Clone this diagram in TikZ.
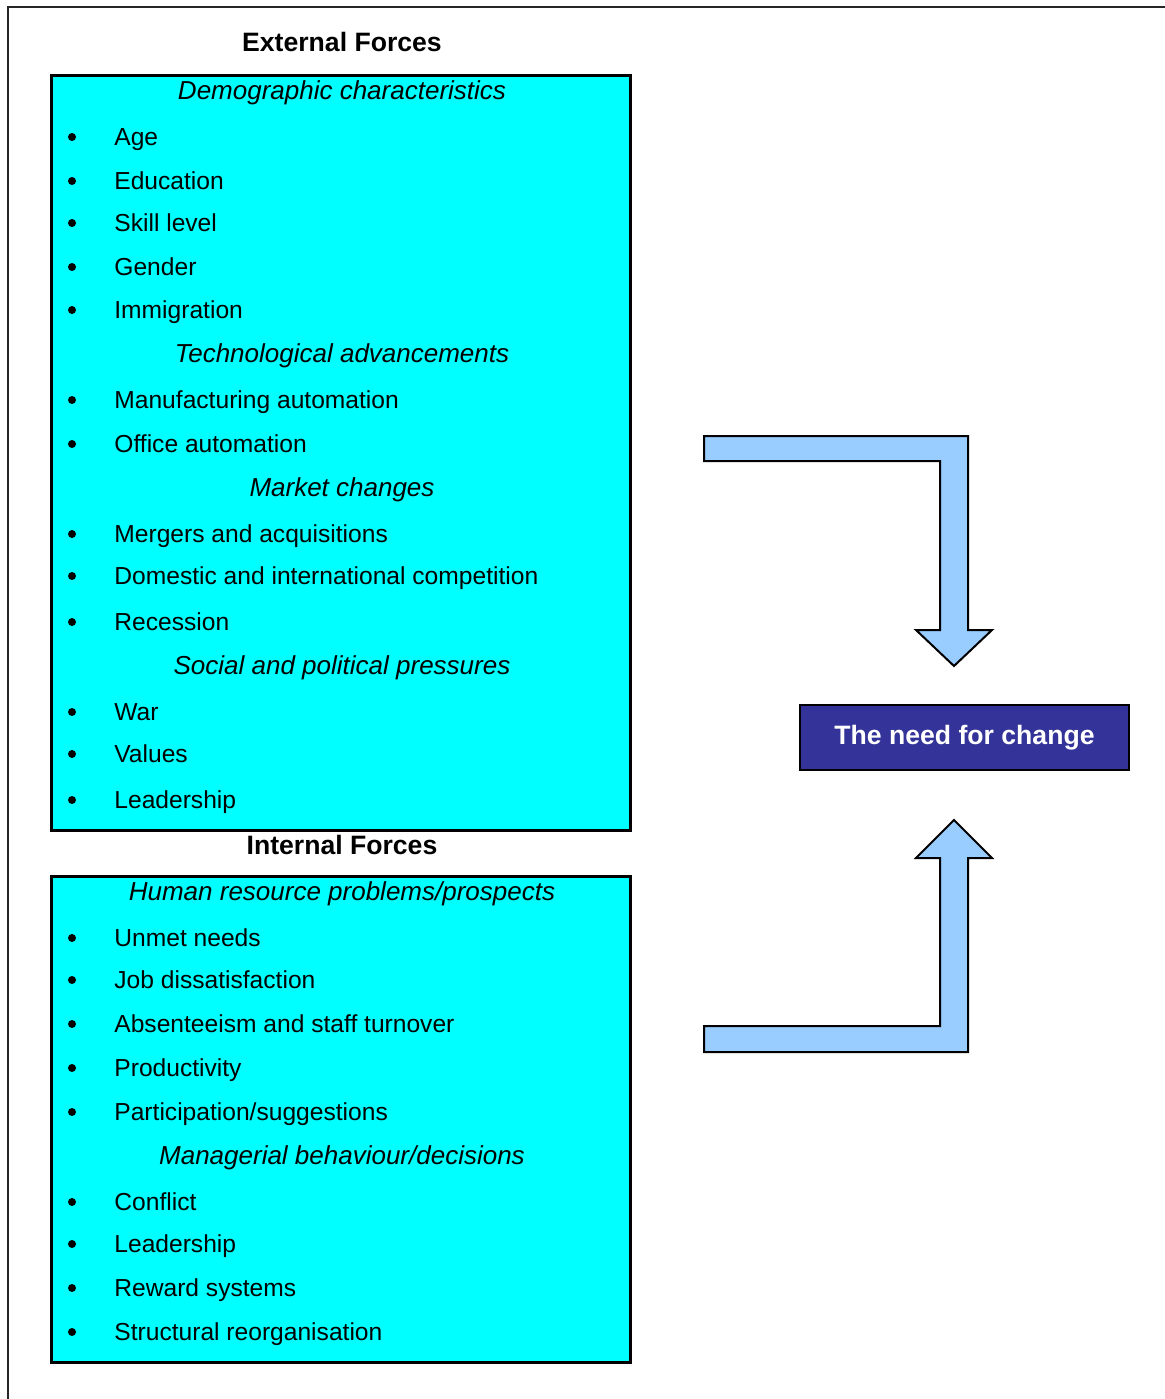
\documentclass[tikz,border=0pt]{standalone}
\usepackage{fontspec}
\setmainfont{Liberation Sans}
\definecolor{panelcyan}{HTML}{00FFFF}
\definecolor{arrowblue}{HTML}{99CCFF}
\definecolor{needblue}{HTML}{333399}
% one bulleted entry: bullet dot plus its text
\newcommand\listentry[3]{%
  \node[bulletdot] (#1dot) at (72,#2) {};
  \node[entry] (#1) at (114,#2+8) {#3};}
\begin{document}
\begin{tikzpicture}[x=0.5pt,y=-0.5pt,
  entry/.style={anchor=base west,inner sep=0,font=\fontsize{12.3}{14}\selectfont},
  group/.style={anchor=base,inner sep=0,font=\fontsize{13}{15}\selectfont\itshape},
  heading/.style={anchor=base,inner sep=0,font=\fontsize{13.3}{15}\selectfont\bfseries},
  bulletdot/.style={circle,fill=black,inner sep=0,minimum size=4pt},
  panel/.style={fill=panelcyan,draw=black,line width=1.5pt},
  bentarrow/.style={fill=arrowblue,draw=black,line width=1pt,line join=miter},
  needbox/.style={fill=needblue,draw=black,line width=0.8pt,text=white,
    font=\fontsize{13.3}{15}\selectfont\bfseries,minimum width=164.5pt,
    minimum height=32.5pt,inner sep=0}]
\useasboundingbox (0,0) rectangle (1165,1399);
% page frame
\draw[black!85,line width=1pt] (8,1402) -- (8,7) -- (1168,7);

% external forces
\node[heading] (exthead) at (342,51.5) {External Forces};
\draw[panel] (51,75) rectangle (630,830);
\node[group] (demo) at (342,99) {Demographic characteristics};
\listentry{age}{137}{Age}
\listentry{edu}{181}{Education}
\listentry{skill}{223}{Skill level}
\listentry{gender}{267}{Gender}
\listentry{immig}{310}{Immigration}
\node[group] (tech) at (342,362) {Technological advancements};
\listentry{manuf}{400}{Manufacturing automation}
\listentry{office}{444}{Office automation}
\node[group] (market) at (342,496) {Market changes};
\listentry{merge}{534}{Mergers and acquisitions}
\listentry{compet}{576}{Domestic and international competition}
\listentry{recess}{622}{Recession}
\node[group] (social) at (342,674) {Social and political pressures};
\listentry{war}{712}{War}
\listentry{values}{754}{Values}
\listentry{leadext}{800}{Leadership}

% internal forces
\node[heading] (inthead) at (342,854.5) {Internal Forces};
\draw[panel] (51,876) rectangle (630,1362);
\node[group] (human) at (342,900) {Human resource problems/prospects};
\listentry{unmet}{938}{Unmet needs}
\listentry{dissat}{980}{Job dissatisfaction}
\listentry{absent}{1024}{Absenteeism and staff turnover}
\listentry{product}{1068}{Productivity}
\listentry{partic}{1112}{Participation/suggestions}
\node[group] (manag) at (342,1164) {Managerial behaviour/decisions};
\listentry{conflict}{1202}{Conflict}
\listentry{leadint}{1244}{Leadership}
\listentry{reward}{1288}{Reward systems}
\listentry{struct}{1332}{Structural reorganisation}

% the need for change and the two bent arrows feeding it
\node[needbox] (need) at (964.5,737.5) {The need for change};
\draw[bentarrow] (704,436) -- (968,436) -- (968,630) -- (992,630) -- (954,666)
  -- (916,630) -- (940,630) -- (940,461) -- (704,461) -- cycle;
\draw[bentarrow] (704,1052) -- (968,1052) -- (968,858) -- (992,858) -- (954,820)
  -- (916,858) -- (940,858) -- (940,1026) -- (704,1026) -- cycle;
\end{tikzpicture}
\end{document}
